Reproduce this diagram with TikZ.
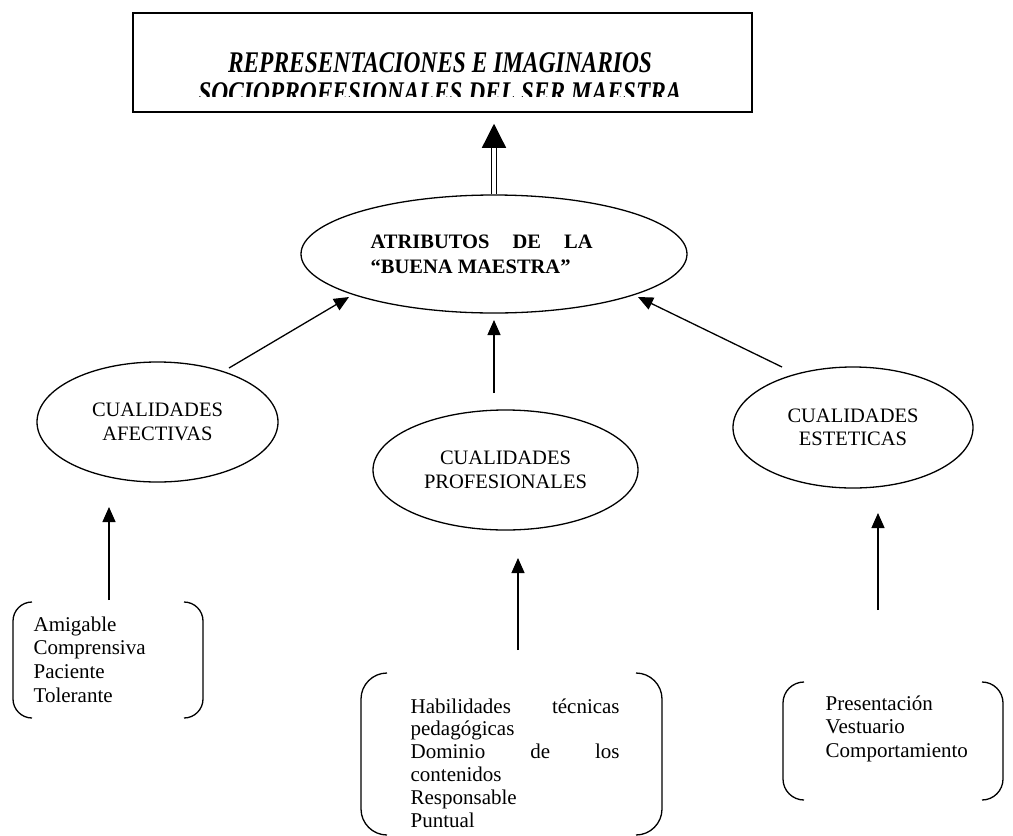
\documentclass[tikz,border=0pt]{standalone}
\usepackage{fontspec}
\setmainfont{Liberation Serif}
\usetikzlibrary{arrows.meta,shapes.geometric}
\newcommand\bracketbox[5]{%
  \draw[brk] (#1+#5,#2) .. controls (#1+0.45*#5,#2) and (#1,#2+0.45*#5) .. (#1,#2+#5)
     -- (#1,#4-#5) .. controls (#1,#4-0.45*#5) and (#1+0.45*#5,#4) .. (#1+#5,#4);
  \draw[brk] (#3-#5,#2) .. controls (#3-0.45*#5,#2) and (#3,#2+0.45*#5) .. (#3,#2+#5)
     -- (#3,#4-#5) .. controls (#3,#4-0.45*#5) and (#3-0.45*#5,#4) .. (#3-#5,#4);}
\begin{document}
\begin{tikzpicture}[x=1pt,y=-1pt,line width=1.3pt,
  ell/.style={draw,ellipse,inner sep=0pt,align=center,font=\fontsize{20.5}{23.5}\selectfont},
  arr/.style={-{Triangle[length=15pt,width=13pt]}},
  bigarr/.style={-{Triangle[length=24pt,width=24pt]}},
  brk/.style={line width=1.3pt},
  body/.style={inner sep=0pt,align=left,anchor=base west,font=\fontsize{21}{23.6}\selectfont},
  ttl/.style={inner sep=0pt,anchor=base,font=\fontsize{30}{33}\selectfont\bfseries\itshape},
  bold/.style={inner sep=0pt,anchor=base west,font=\fontsize{20.5}{25}\selectfont\bfseries}]
\useasboundingbox (0,0) rectangle (1013,836);

% title box
\node[draw,line width=1.5pt,minimum width=619pt,minimum height=99pt,inner sep=0pt] (title) at (442.5,62.5) {};
\begin{scope}
  \clip (134,14) rectangle (751,96);
  \node[ttl] (t1) at (440,72) {\scalebox{0.78}[1]{REPRESENTACIONES E IMAGINARIOS}};
  \node[ttl] (t2) at (440,102) {\scalebox{0.78}[1]{SOCIOPROFESIONALES DEL SER MAESTRA}};
\end{scope}

% central ellipse
\node[draw,ellipse,minimum width=386pt,minimum height=118pt,inner sep=0pt] (attr) at (494,254) {};
\node[bold] (at1) at (370,248) {\hbox to 222pt{ATRIBUTOS\hfill DE\hfill LA}};
\node[bold] (at2) at (370,273) {“BUENA MAESTRA”};

% double arrow to title
\draw[line width=1.2pt,double distance=4pt,shorten >=35pt] (attr.north) -- (attr.north |- title.south);
\draw[bigarr,shorten >=11pt,shorten <=47pt] (attr.north) -- (attr.north |- title.south);

% qualities
\node[ell,minimum width=241pt,minimum height=120pt] (afe) at (157.5,422) {CUALIDADES\\AFECTIVAS};
\node[ell,minimum width=265pt,minimum height=120pt] (pro) at (505.5,470) {CUALIDADES\\PROFESIONALES};
\node[ell,minimum width=240pt,minimum height=121pt] (est) at (853,427.5) {CUALIDADES\\ESTETICAS};

\draw[arr] ([shift={(71.5,-54)}]afe.center) -- ([shift={(-145,43)}]attr.center);
\draw[arr] ([shift={(-11.5,-77)}]pro.center) -- ([shift={(0,66)}]attr.center);
\draw[arr] ([shift={(-71,-60.5)}]est.center) -- ([shift={(144,43)}]attr.center);

% lists (anchor = baseline of last line)
\node[body] (lt) at (33,702) {Amigable\\Comprensiva\\Paciente\\Tolerante};
\node[body,font=\fontsize{21}{22.8}\selectfont] (mt) at (410,827) {\hbox to 209pt{Habilidades\hfill técnicas}\\pedagógicas\\\hbox to 209pt{Dominio\hfill de\hfill los}\\contenidos\\Responsable\\Puntual};
\node[body,font=\fontsize{21}{23.5}\selectfont] (rt) at (825,757) {Presentación\\Vestuario\\Comportamiento};

\bracketbox{13}{602}{203}{718}{19}
\bracketbox{361}{673}{662}{835}{26}
\bracketbox{783}{682}{1003}{800}{21}

\draw[arr] ([shift={(76,-102)}]lt.base west) -- ([shift={(-48.5,85)}]afe.center);
\draw[arr] ([shift={(108,-177)}]mt.base west) -- ([shift={(12.5,88)}]pro.center);
\draw[arr] ([shift={(53,-147)}]rt.base west) -- ([shift={(25,85.5)}]est.center);
\end{tikzpicture}
\end{document}
